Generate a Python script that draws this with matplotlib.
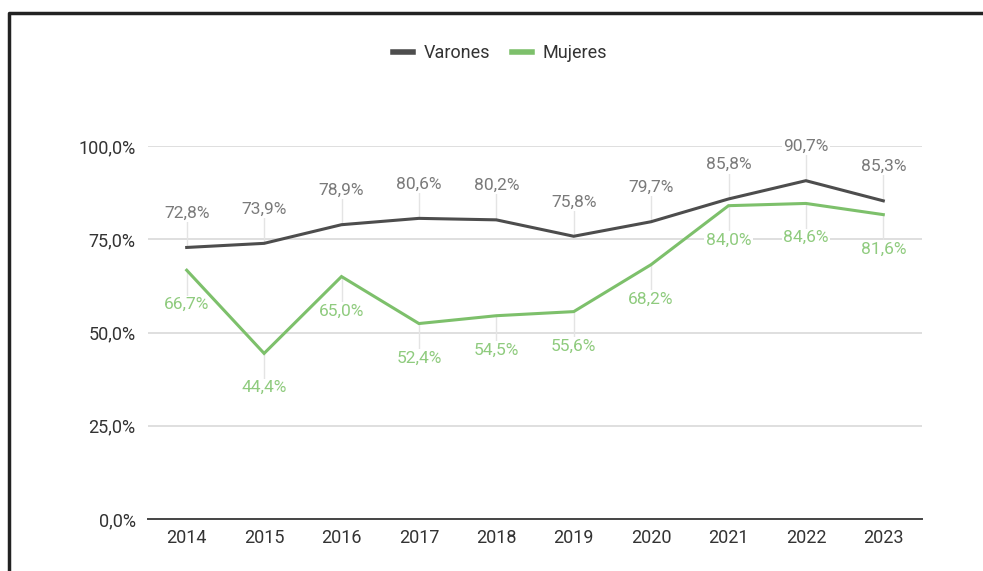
import matplotlib.pyplot as plt
from matplotlib.lines import Line2D

plt.rcParams['font.family'] = ['Roboto', 'DejaVu Sans']

years = ["2014", "2015", "2016", "2017", "2018", "2019", "2020", "2021", "2022", "2023"]
varones = [72.8, 73.9, 78.9, 80.6, 80.2, 75.8, 79.7, 85.8, 90.7, 85.3]
mujeres = [66.7, 44.4, 65.0, 52.4, 54.5, 55.6, 68.2, 84.0, 84.6, 81.6]
yticks = [0, 25, 50, 75, 100]

c_var = "#4d4d4d"
c_muj = "#7dc06b"
c_var_lbl = "#7a7a7a"
c_muj_lbl = "#8fcb7e"

W, H = 983, 571
fig = plt.figure(figsize=(W / 100, H / 100), dpi=100)
ax = fig.add_axes([148 / W, 1 - 519 / H, (922 - 148) / W, (519 - 146) / H])

x = list(range(len(years)))
ax.plot(x, varones, color=c_var, lw=2.2, zorder=4, solid_joinstyle='miter')
ax.plot(x, mujeres, color=c_muj, lw=2.2, zorder=4, solid_joinstyle='miter')

# data labels with faint leader lines
off = 9.2
for i in x:
    v, m = varones[i], mujeres[i]
    ax.plot([i, i], [v, v + off], color="#e4e4e4", lw=1, zorder=1, clip_on=False)
    ax.plot([i, i], [m, m - off], color="#e4e4e4", lw=1, zorder=1, clip_on=False)
    ax.text(i, v + off, f"{v:.1f}%".replace(".", ","), ha="center", va="center",
            fontsize=12.5, color=c_var_lbl, zorder=3, clip_on=False,
            bbox=dict(facecolor="white", edgecolor="none", pad=1.0))
    ax.text(i, m - off, f"{m:.1f}%".replace(".", ","), ha="center", va="center",
            fontsize=12.5, color=c_muj_lbl, zorder=3, clip_on=False,
            bbox=dict(facecolor="white", edgecolor="none", pad=1.0))

ax.set_xlim(-0.5, len(years) - 0.5)
ax.set_ylim(0, 100)
ax.set_xticks(x)
ax.set_xticklabels(years)
ax.set_yticks(yticks)
ax.set_yticklabels([f"{t:.1f}%".replace(".", ",") for t in yticks])
ax.tick_params(length=0, labelsize=13, labelcolor="#333333")
ax.tick_params(axis="y", pad=9)
ax.tick_params(axis="x", pad=7)

for t in yticks[1:]:
    ax.axhline(t, color="#d9d9d9", lw=1.2, zorder=0)
for s in ["top", "right", "left"]:
    ax.spines[s].set_visible(False)
ax.spines["bottom"].set_color("#444444")
ax.spines["bottom"].set_linewidth(1.4)

handles = [Line2D([], [], color=c_var, lw=4), Line2D([], [], color=c_muj, lw=4)]
fig.legend(handles, ["Varones", "Mujeres"], loc="center", bbox_to_anchor=(500 / W, 1 - 53 / H),
           ncol=2, frameon=False, fontsize=13, handlelength=1.1, handletextpad=0.6,
           columnspacing=1.2, labelcolor="#333333")

# frame border (left and top)
fig.add_artist(Line2D([9 / W, 9 / W, 1], [0, 1 - 13 / H, 1 - 13 / H], color="#222222", lw=2.5,
                      transform=fig.transFigure))

fig.savefig("out.png", dpi=100, facecolor="white")
